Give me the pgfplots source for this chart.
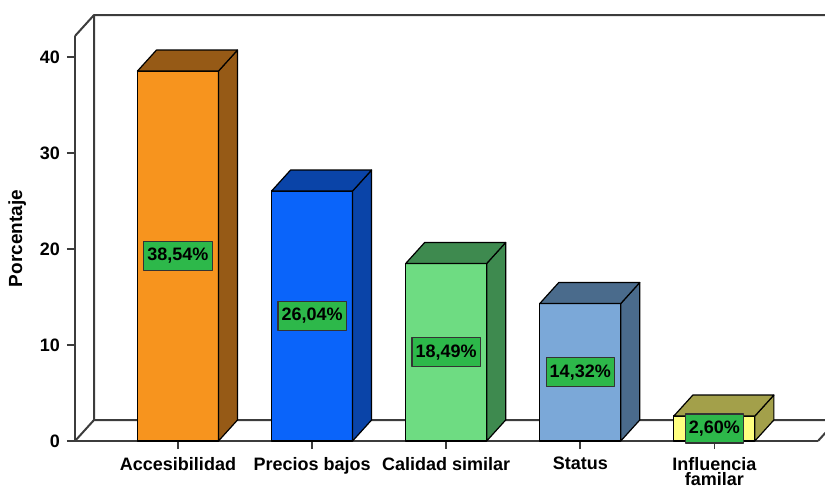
\documentclass[border=0pt]{standalone}
\usepackage{fontspec}
\setmainfont{Liberation Sans}
\usepackage{pgfplots}
\usepackage{pgfplotstable}
\pgfplotsset{compat=1.18}

% front and shaded (side/top) colours of each bar
\definecolor{front0}{HTML}{F7941E}\definecolor{side0}{HTML}{965A16}
\definecolor{front1}{HTML}{0A64FA}\definecolor{side1}{HTML}{0A44A8}
\definecolor{front2}{HTML}{6EDC82}\definecolor{side2}{HTML}{3E8A4F}
\definecolor{front3}{HTML}{7BA8D8}\definecolor{side3}{HTML}{4A6B8C}
\definecolor{front4}{HTML}{FFFF80}\definecolor{side4}{HTML}{A3A04A}
\definecolor{labelgreen}{HTML}{2DB84A}
\definecolor{framegray}{HTML}{3C3C3C}

\pgfplotstableread{
idx v
0 38.54
1 26.04
2 18.49
3 14.32
4 2.60
}\datatable

% bar half width, depth offsets (axis units)
\def\hw{0.302}
\def\ddx{0.1417}
\def\ddy{2.1875}

\begin{document}
\begin{tikzpicture}
\useasboundingbox (0,0) rectangle (412.5pt,-243.5pt);
\clip (0,0) rectangle (412.5pt,-243.5pt);
\begin{axis}[
  at={(37.5pt,-220.5pt)}, anchor=south west,
  scale only axis, width=371.5pt, height=202.5pt,
  xmin=-0.768, xmax=4.773, ymin=0, ymax=42.19,
  clip=false,
  axis lines*=left,
  axis line style={-, line width=1pt, framegray},
  tick align=outside,
  major tick length=4pt,
  tick style={line width=0.8pt, framegray},
  xtick={0,...,4},
  xticklabels={Accesibilidad, Precios bajos, Calidad similar, Status, {Influencia\\familar}},
  ytick={0,10,20,30,40},
  /pgf/number format/assume math mode=true,
  ticklabel style={font=\fontsize{9}{7.6}\selectfont\bfseries},
  xticklabel style={align=center, yshift=-0.6pt},
  ylabel={Porcentaje},
  ylabel style={font=\fontsize{9.5}{11}\selectfont\bfseries},
  every axis plot/.append style={line join=round},
]
% walls and floor
\addplot[draw=framegray, line width=1pt] coordinates
  {(-0.768,42.19) (-0.6263,44.375) (5.2,44.375)};
\addplot[draw=framegray, line width=1pt] coordinates
  {(-0.6263,44.375) (-0.6263,2.1875) (4.9147,2.1875) (4.773,0)};
\addplot[draw=framegray, line width=1pt] coordinates
  {(-0.768,0) (-0.6263,2.1875)};

% three faces of each bar, built from the table values
\pgfplotsinvokeforeach{0,...,4}{
  \pgfplotstablegetelem{#1}{v}\of\datatable
  \let\val\pgfplotsretval
  \pgfmathsetmacro\xl{#1-\hw}
  \pgfmathsetmacro\xr{#1+\hw}
  \pgfmathsetmacro\xlb{#1-\hw+\ddx}
  \pgfmathsetmacro\xrb{#1+\hw+\ddx}
  \pgfmathsetmacro\yt{\val+\ddy}
  \edef\drawbar{%
    \noexpand\addplot[fill=front#1, draw=black, line width=0.6pt] coordinates
      {(\xl,0) (\xr,0) (\xr,\val) (\xl,\val)} -- cycle;
    \noexpand\addplot[fill=side#1, draw=black, line width=0.6pt] coordinates
      {(\xr,0) (\xrb,\ddy) (\xrb,\yt) (\xr,\val)} -- cycle;
    \noexpand\addplot[fill=side#1, draw=black, line width=0.6pt] coordinates
      {(\xl,\val) (\xr,\val) (\xrb,\yt) (\xlb,\yt)} -- cycle;
  }%
  \drawbar
}

% value labels, centred half way up each bar
\addplot[
  draw=none, mark=none,
  nodes near coords={\pgfmathprintnumber[fixed,zerofill,precision=2,use comma]{\pgfplotspointmeta}\%},
  every node near coord/.append style={
    anchor=center, fill=labelgreen, draw=black!80, line width=0.6pt,
    font=\fontsize{9}{10}\selectfont\bfseries, text=black,
    inner xsep=1.8pt, inner ysep=0pt, minimum height=14.5pt},
  point meta=explicit,
] table[x=idx, y expr=\thisrow{v}/2, meta=v] {\datatable};
\end{axis}
\end{tikzpicture}
\end{document}
